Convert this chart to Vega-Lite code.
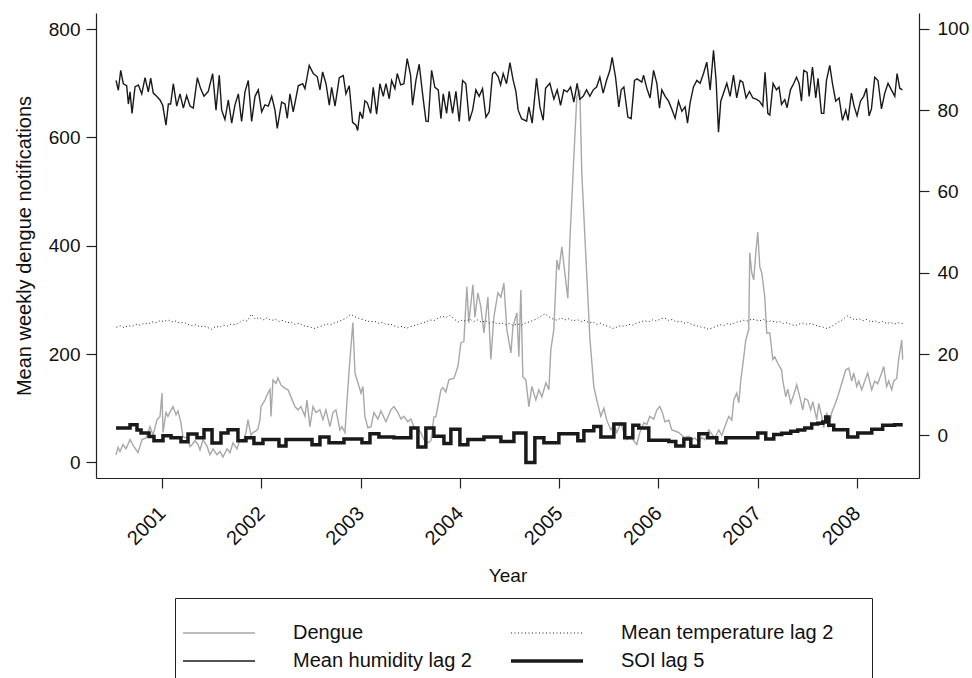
{
  "$schema": "https://vega.github.io/schema/vega-lite/v6.json",
  "width": 823,
  "height": 465,
  "autosize": {"type": "none"},
  "padding": {"left": 96, "top": 13, "right": 53, "bottom": 200},
  "background": "white",
  "config": {
    "view": {"stroke": null},
    "font": "Liberation Sans",
    "axis": {"domainColor": "#222", "tickColor": "#222", "labelColor": "#111", "titleColor": "#111", "labelFont": "Liberation Sans", "titleFont": "Liberation Sans", "labelFontSize": 19, "titleFontSize": 19, "titleFontWeight": "normal", "grid": false, "tickSize": 10, "domainWidth": 1.2, "tickWidth": 1.2}
  },
  "datasets": {
    "d": [
      {"t":2000.537,"v":14},{"t":2000.557,"v":28},{"t":2000.577,"v":20},{"t":2000.607,"v":33},{"t":2000.637,"v":25},{"t":2000.678,"v":42},{"t":2000.708,"v":32},{"t":2000.758,"v":18},{"t":2000.799,"v":42},{"t":2000.839,"v":45},{"t":2000.879,"v":66},{"t":2000.909,"v":50},{"t":2000.950,"v":79},{"t":2000.980,"v":85},{"t":2001.000,"v":128},{"t":2001.010,"v":55},{"t":2001.040,"v":92},{"t":2001.060,"v":85},{"t":2001.091,"v":97},{"t":2001.111,"v":103},{"t":2001.141,"v":88},{"t":2001.161,"v":95},{"t":2001.191,"v":73},{"t":2001.211,"v":47},{"t":2001.252,"v":45},{"t":2001.282,"v":29},{"t":2001.302,"v":33},{"t":2001.332,"v":40},{"t":2001.363,"v":33},{"t":2001.383,"v":23},{"t":2001.413,"v":42},{"t":2001.453,"v":30},{"t":2001.483,"v":14},{"t":2001.514,"v":25},{"t":2001.554,"v":14},{"t":2001.584,"v":20},{"t":2001.614,"v":10},{"t":2001.655,"v":25},{"t":2001.685,"v":18},{"t":2001.715,"v":36},{"t":2001.755,"v":25},{"t":2001.785,"v":42},{"t":2001.816,"v":38},{"t":2001.846,"v":55},{"t":2001.866,"v":79},{"t":2001.896,"v":50},{"t":2001.916,"v":55},{"t":2001.947,"v":58},{"t":2001.967,"v":62},{"t":2001.987,"v":79},{"t":2001.997,"v":103},{"t":2002.037,"v":115},{"t":2002.067,"v":128},{"t":2002.088,"v":135},{"t":2002.098,"v":85},{"t":2002.118,"v":152},{"t":2002.148,"v":146},{"t":2002.168,"v":156},{"t":2002.198,"v":143},{"t":2002.229,"v":138},{"t":2002.269,"v":134},{"t":2002.299,"v":121},{"t":2002.339,"v":103},{"t":2002.370,"v":97},{"t":2002.400,"v":103},{"t":2002.440,"v":85},{"t":2002.460,"v":115},{"t":2002.490,"v":66},{"t":2002.521,"v":103},{"t":2002.551,"v":92},{"t":2002.591,"v":97},{"t":2002.621,"v":79},{"t":2002.651,"v":97},{"t":2002.692,"v":66},{"t":2002.722,"v":92},{"t":2002.752,"v":97},{"t":2002.792,"v":60},{"t":2002.813,"v":66},{"t":2002.843,"v":55},{"t":2002.853,"v":84},{"t":2002.883,"v":165},{"t":2002.903,"v":213},{"t":2002.923,"v":258},{"t":2002.944,"v":165},{"t":2002.974,"v":147},{"t":2003.004,"v":128},{"t":2003.024,"v":140},{"t":2003.044,"v":85},{"t":2003.074,"v":64},{"t":2003.105,"v":66},{"t":2003.135,"v":92},{"t":2003.175,"v":80},{"t":2003.205,"v":95},{"t":2003.256,"v":75},{"t":2003.306,"v":97},{"t":2003.336,"v":103},{"t":2003.377,"v":92},{"t":2003.407,"v":80},{"t":2003.437,"v":85},{"t":2003.477,"v":75},{"t":2003.507,"v":80},{"t":2003.538,"v":66},{"t":2003.578,"v":62},{"t":2003.608,"v":55},{"t":2003.638,"v":42},{"t":2003.679,"v":36},{"t":2003.709,"v":40},{"t":2003.739,"v":84},{"t":2003.759,"v":84},{"t":2003.810,"v":134},{"t":2003.830,"v":138},{"t":2003.860,"v":130},{"t":2003.890,"v":153},{"t":2003.940,"v":155},{"t":2003.981,"v":177},{"t":2004.011,"v":221},{"t":2004.041,"v":223},{"t":2004.071,"v":324},{"t":2004.091,"v":258},{"t":2004.132,"v":328},{"t":2004.152,"v":268},{"t":2004.182,"v":313},{"t":2004.212,"v":287},{"t":2004.243,"v":239},{"t":2004.283,"v":305},{"t":2004.313,"v":190},{"t":2004.343,"v":268},{"t":2004.384,"v":313},{"t":2004.414,"v":305},{"t":2004.444,"v":331},{"t":2004.474,"v":245},{"t":2004.515,"v":202},{"t":2004.535,"v":250},{"t":2004.575,"v":276},{"t":2004.595,"v":195},{"t":2004.615,"v":318},{"t":2004.635,"v":158},{"t":2004.666,"v":152},{"t":2004.696,"v":103},{"t":2004.726,"v":140},{"t":2004.766,"v":115},{"t":2004.796,"v":134},{"t":2004.827,"v":121},{"t":2004.867,"v":147},{"t":2004.897,"v":134},{"t":2004.917,"v":208},{"t":2004.947,"v":245},{"t":2004.978,"v":374},{"t":2004.998,"v":355},{"t":2005.028,"v":398},{"t":2005.058,"v":350},{"t":2005.088,"v":303},{"t":2005.109,"v":410},{"t":2005.149,"v":564},{"t":2005.179,"v":675},{"t":2005.209,"v":688},{"t":2005.229,"v":534},{"t":2005.270,"v":380},{"t":2005.310,"v":230},{"t":2005.350,"v":140},{"t":2005.380,"v":115},{"t":2005.421,"v":85},{"t":2005.451,"v":100},{"t":2005.481,"v":78},{"t":2005.521,"v":60},{"t":2005.552,"v":70},{"t":2005.582,"v":55},{"t":2005.622,"v":73},{"t":2005.652,"v":55},{"t":2005.683,"v":42},{"t":2005.723,"v":48},{"t":2005.753,"v":40},{"t":2005.783,"v":33},{"t":2005.813,"v":55},{"t":2005.854,"v":73},{"t":2005.884,"v":70},{"t":2005.914,"v":85},{"t":2005.954,"v":80},{"t":2005.985,"v":97},{"t":2006.015,"v":103},{"t":2006.045,"v":90},{"t":2006.065,"v":75},{"t":2006.106,"v":78},{"t":2006.136,"v":60},{"t":2006.166,"v":58},{"t":2006.206,"v":55},{"t":2006.236,"v":50},{"t":2006.267,"v":46},{"t":2006.307,"v":48},{"t":2006.337,"v":42},{"t":2006.367,"v":45},{"t":2006.408,"v":38},{"t":2006.438,"v":46},{"t":2006.468,"v":42},{"t":2006.508,"v":60},{"t":2006.539,"v":52},{"t":2006.569,"v":45},{"t":2006.609,"v":60},{"t":2006.639,"v":50},{"t":2006.670,"v":66},{"t":2006.710,"v":85},{"t":2006.740,"v":78},{"t":2006.760,"v":115},{"t":2006.790,"v":128},{"t":2006.811,"v":110},{"t":2006.831,"v":152},{"t":2006.861,"v":195},{"t":2006.881,"v":226},{"t":2006.911,"v":245},{"t":2006.921,"v":387},{"t":2006.941,"v":350},{"t":2006.961,"v":337},{"t":2006.982,"v":387},{"t":2007.002,"v":425},{"t":2007.022,"v":361},{"t":2007.042,"v":350},{"t":2007.072,"v":306},{"t":2007.092,"v":239},{"t":2007.123,"v":239},{"t":2007.153,"v":190},{"t":2007.173,"v":195},{"t":2007.203,"v":183},{"t":2007.243,"v":170},{"t":2007.253,"v":152},{"t":2007.284,"v":121},{"t":2007.304,"v":135},{"t":2007.334,"v":109},{"t":2007.364,"v":125},{"t":2007.394,"v":143},{"t":2007.425,"v":121},{"t":2007.455,"v":97},{"t":2007.475,"v":118},{"t":2007.505,"v":115},{"t":2007.535,"v":97},{"t":2007.556,"v":112},{"t":2007.596,"v":79},{"t":2007.616,"v":109},{"t":2007.646,"v":85},{"t":2007.666,"v":64},{"t":2007.697,"v":92},{"t":2007.717,"v":64},{"t":2007.747,"v":92},{"t":2007.777,"v":106},{"t":2007.807,"v":121},{"t":2007.838,"v":140},{"t":2007.858,"v":152},{"t":2007.888,"v":171},{"t":2007.918,"v":174},{"t":2007.948,"v":150},{"t":2007.968,"v":165},{"t":2007.999,"v":140},{"t":2008.019,"v":150},{"t":2008.049,"v":134},{"t":2008.079,"v":150},{"t":2008.109,"v":165},{"t":2008.150,"v":134},{"t":2008.180,"v":150},{"t":2008.210,"v":145},{"t":2008.250,"v":165},{"t":2008.270,"v":177},{"t":2008.300,"v":140},{"t":2008.321,"v":150},{"t":2008.351,"v":134},{"t":2008.371,"v":150},{"t":2008.401,"v":155},{"t":2008.421,"v":190},{"t":2008.452,"v":226},{"t":2008.462,"v":190}
    ],
    "h": [
      {"t":2000.537,"v":87.3},{"t":2000.560,"v":84.9},{"t":2000.584,"v":89.8},{"t":2000.610,"v":86.5},{"t":2000.644,"v":86},{"t":2000.661,"v":81.5},{"t":2000.678,"v":84.5},{"t":2000.698,"v":79.2},{"t":2000.728,"v":85.7},{"t":2000.762,"v":86.2},{"t":2000.796,"v":84},{"t":2000.829,"v":88},{"t":2000.862,"v":84.5},{"t":2000.886,"v":87.9},{"t":2000.912,"v":84.2},{"t":2000.946,"v":83.4},{"t":2000.980,"v":82.5},{"t":2001.007,"v":81.2},{"t":2001.040,"v":76.3},{"t":2001.064,"v":81.5},{"t":2001.087,"v":81.5},{"t":2001.114,"v":86.5},{"t":2001.148,"v":81},{"t":2001.181,"v":84},{"t":2001.215,"v":80.5},{"t":2001.248,"v":83.6},{"t":2001.282,"v":81},{"t":2001.315,"v":80.5},{"t":2001.356,"v":88},{"t":2001.389,"v":85.3},{"t":2001.423,"v":83.4},{"t":2001.466,"v":84.6},{"t":2001.510,"v":89},{"t":2001.544,"v":80},{"t":2001.577,"v":88.6},{"t":2001.601,"v":80},{"t":2001.634,"v":77.7},{"t":2001.668,"v":82.5},{"t":2001.702,"v":76.8},{"t":2001.735,"v":81.3},{"t":2001.769,"v":84},{"t":2001.802,"v":77.2},{"t":2001.836,"v":84.5},{"t":2001.869,"v":87.3},{"t":2001.903,"v":77.2},{"t":2001.937,"v":83.4},{"t":2001.970,"v":85},{"t":2002.004,"v":79.6},{"t":2002.037,"v":81.3},{"t":2002.071,"v":81},{"t":2002.105,"v":83.4},{"t":2002.138,"v":80},{"t":2002.161,"v":75.5},{"t":2002.205,"v":82},{"t":2002.239,"v":81.5},{"t":2002.262,"v":78},{"t":2002.289,"v":84},{"t":2002.322,"v":79.6},{"t":2002.373,"v":86},{"t":2002.417,"v":86.5},{"t":2002.440,"v":85.3},{"t":2002.483,"v":91},{"t":2002.524,"v":89},{"t":2002.564,"v":88.2},{"t":2002.591,"v":85},{"t":2002.618,"v":89.4},{"t":2002.652,"v":86.5},{"t":2002.685,"v":81.2},{"t":2002.709,"v":85.6},{"t":2002.743,"v":81},{"t":2002.786,"v":88},{"t":2002.826,"v":88.5},{"t":2002.853,"v":84},{"t":2002.886,"v":86},{"t":2002.920,"v":77},{"t":2002.954,"v":76.3},{"t":2002.971,"v":75},{"t":2002.994,"v":79.6},{"t":2003.021,"v":77.9},{"t":2003.044,"v":82.3},{"t":2003.068,"v":81.8},{"t":2003.102,"v":79.2},{"t":2003.128,"v":85.6},{"t":2003.162,"v":79},{"t":2003.195,"v":86.5},{"t":2003.229,"v":83.4},{"t":2003.256,"v":86.5},{"t":2003.289,"v":82.8},{"t":2003.313,"v":87.3},{"t":2003.346,"v":85.3},{"t":2003.370,"v":89},{"t":2003.404,"v":86.2},{"t":2003.437,"v":86.5},{"t":2003.470,"v":92.7},{"t":2003.504,"v":88.6},{"t":2003.524,"v":81.2},{"t":2003.558,"v":87.3},{"t":2003.591,"v":91.3},{"t":2003.625,"v":84},{"t":2003.659,"v":77.3},{"t":2003.682,"v":77.2},{"t":2003.716,"v":89.8},{"t":2003.749,"v":85.6},{"t":2003.783,"v":85},{"t":2003.810,"v":77.9},{"t":2003.833,"v":84},{"t":2003.867,"v":79.2},{"t":2003.893,"v":84.6},{"t":2003.927,"v":79.2},{"t":2003.961,"v":84.6},{"t":2003.994,"v":77.2},{"t":2004.028,"v":87.3},{"t":2004.061,"v":86.5},{"t":2004.095,"v":77.3},{"t":2004.129,"v":80},{"t":2004.162,"v":85},{"t":2004.195,"v":83.4},{"t":2004.229,"v":85.3},{"t":2004.263,"v":78.3},{"t":2004.296,"v":79.6},{"t":2004.330,"v":89},{"t":2004.353,"v":89.4},{"t":2004.387,"v":88.2},{"t":2004.411,"v":86.2},{"t":2004.437,"v":89},{"t":2004.471,"v":86.5},{"t":2004.505,"v":91.7},{"t":2004.538,"v":87.3},{"t":2004.565,"v":84.6},{"t":2004.588,"v":80},{"t":2004.622,"v":77.9},{"t":2004.673,"v":77.3},{"t":2004.696,"v":80.8},{"t":2004.729,"v":76.8},{"t":2004.773,"v":87.8},{"t":2004.807,"v":80.8},{"t":2004.840,"v":77.5},{"t":2004.864,"v":85.4},{"t":2004.907,"v":86.6},{"t":2004.948,"v":82.7},{"t":2004.981,"v":85},{"t":2005.015,"v":81.2},{"t":2005.048,"v":85},{"t":2005.082,"v":84.5},{"t":2005.116,"v":85.7},{"t":2005.149,"v":82},{"t":2005.182,"v":86.6},{"t":2005.209,"v":82.7},{"t":2005.243,"v":83.4},{"t":2005.277,"v":85},{"t":2005.310,"v":83.4},{"t":2005.344,"v":85},{"t":2005.378,"v":85.7},{"t":2005.411,"v":88.1},{"t":2005.444,"v":84.2},{"t":2005.478,"v":87.3},{"t":2005.512,"v":89.8},{"t":2005.535,"v":93},{"t":2005.569,"v":88.1},{"t":2005.602,"v":80.8},{"t":2005.626,"v":85},{"t":2005.653,"v":85.7},{"t":2005.693,"v":78.3},{"t":2005.726,"v":77.9},{"t":2005.760,"v":87.3},{"t":2005.786,"v":87.7},{"t":2005.834,"v":86.9},{"t":2005.851,"v":88.6},{"t":2005.884,"v":85.4},{"t":2005.917,"v":83},{"t":2005.952,"v":89.8},{"t":2005.985,"v":86.6},{"t":2006.012,"v":80.5},{"t":2006.035,"v":85},{"t":2006.069,"v":83.4},{"t":2006.103,"v":82.2},{"t":2006.136,"v":80.2},{"t":2006.169,"v":78},{"t":2006.203,"v":82.2},{"t":2006.237,"v":79.7},{"t":2006.270,"v":80.8},{"t":2006.294,"v":76.8},{"t":2006.320,"v":81.8},{"t":2006.354,"v":85.7},{"t":2006.388,"v":87.3},{"t":2006.421,"v":86.6},{"t":2006.455,"v":89},{"t":2006.488,"v":91.8},{"t":2006.522,"v":85},{"t":2006.556,"v":94.7},{"t":2006.582,"v":87.3},{"t":2006.606,"v":74.6},{"t":2006.629,"v":82.2},{"t":2006.657,"v":84.2},{"t":2006.690,"v":86.6},{"t":2006.723,"v":83.4},{"t":2006.757,"v":88.6},{"t":2006.790,"v":83},{"t":2006.824,"v":87.3},{"t":2006.851,"v":86.9},{"t":2006.884,"v":83},{"t":2006.918,"v":84.6},{"t":2006.952,"v":83},{"t":2006.985,"v":82.7},{"t":2007.019,"v":82.2},{"t":2007.052,"v":81},{"t":2007.075,"v":89.3},{"t":2007.103,"v":79.2},{"t":2007.123,"v":78.8},{"t":2007.156,"v":86.6},{"t":2007.190,"v":85},{"t":2007.216,"v":85.7},{"t":2007.241,"v":81.4},{"t":2007.274,"v":82.6},{"t":2007.297,"v":80.6},{"t":2007.331,"v":85},{"t":2007.365,"v":86.6},{"t":2007.392,"v":88.1},{"t":2007.418,"v":86.6},{"t":2007.442,"v":82.2},{"t":2007.465,"v":89.8},{"t":2007.499,"v":89.3},{"t":2007.519,"v":83.4},{"t":2007.553,"v":90.6},{"t":2007.586,"v":83},{"t":2007.609,"v":87.8},{"t":2007.643,"v":79.2},{"t":2007.667,"v":79.2},{"t":2007.694,"v":87.3},{"t":2007.727,"v":91},{"t":2007.754,"v":86.6},{"t":2007.787,"v":82.2},{"t":2007.821,"v":83},{"t":2007.855,"v":77.5},{"t":2007.888,"v":80},{"t":2007.911,"v":77.5},{"t":2007.945,"v":84.2},{"t":2007.972,"v":81},{"t":2008.002,"v":78.6},{"t":2008.036,"v":82.2},{"t":2008.069,"v":83.4},{"t":2008.097,"v":85.4},{"t":2008.123,"v":78.6},{"t":2008.147,"v":80.3},{"t":2008.180,"v":88.1},{"t":2008.213,"v":87.3},{"t":2008.248,"v":80.3},{"t":2008.281,"v":84.2},{"t":2008.314,"v":86.6},{"t":2008.348,"v":85},{"t":2008.382,"v":83.4},{"t":2008.405,"v":89},{"t":2008.432,"v":85.4},{"t":2008.459,"v":85}
    ],
    "tmp": [
      {"t":2000.54,"v":26.6},{"t":2000.58,"v":26.9},{"t":2000.62,"v":26.5},{"t":2000.66,"v":27.0},{"t":2000.70,"v":26.8},{"t":2000.74,"v":27.3},{"t":2000.78,"v":27.1},{"t":2000.82,"v":27.6},{"t":2000.86,"v":27.4},{"t":2000.90,"v":27.9},{"t":2000.94,"v":27.7},{"t":2000.98,"v":28.2},
      {"t":2001.02,"v":28.0},{"t":2001.06,"v":28.4},{"t":2001.10,"v":27.9},{"t":2001.14,"v":28.1},{"t":2001.18,"v":27.6},{"t":2001.22,"v":27.8},{"t":2001.26,"v":27.3},{"t":2001.30,"v":27.0},{"t":2001.34,"v":27.2},{"t":2001.38,"v":26.7},{"t":2001.42,"v":26.9},{"t":2001.46,"v":26.5},{"t":2001.50,"v":26.1},{"t":2001.54,"v":26.8},{"t":2001.58,"v":26.6},{"t":2001.62,"v":27.1},{"t":2001.66,"v":26.9},{"t":2001.70,"v":27.4},{"t":2001.74,"v":27.2},{"t":2001.78,"v":27.8},{"t":2001.82,"v":28.3},{"t":2001.86,"v":28.1},{"t":2001.90,"v":29.8},{"t":2001.94,"v":28.6},{"t":2001.98,"v":29.0},
      {"t":2002.02,"v":28.4},{"t":2002.06,"v":28.9},{"t":2002.10,"v":28.2},{"t":2002.14,"v":28.6},{"t":2002.18,"v":28.0},{"t":2002.22,"v":28.3},{"t":2002.26,"v":27.7},{"t":2002.30,"v":27.9},{"t":2002.34,"v":27.3},{"t":2002.38,"v":27.6},{"t":2002.42,"v":27.0},{"t":2002.46,"v":26.8},{"t":2002.50,"v":26.6},{"t":2002.54,"v":26.3},{"t":2002.58,"v":26.7},{"t":2002.62,"v":27.0},{"t":2002.66,"v":27.4},{"t":2002.70,"v":27.2},{"t":2002.74,"v":27.7},{"t":2002.78,"v":28.0},{"t":2002.82,"v":28.4},{"t":2002.86,"v":28.9},{"t":2002.90,"v":29.8},{"t":2002.94,"v":29.2},{"t":2002.98,"v":28.8},
      {"t":2003.02,"v":28.5},{"t":2003.06,"v":28.2},{"t":2003.10,"v":27.9},{"t":2003.14,"v":28.1},{"t":2003.18,"v":27.6},{"t":2003.22,"v":27.8},{"t":2003.26,"v":27.2},{"t":2003.30,"v":27.4},{"t":2003.34,"v":26.9},{"t":2003.38,"v":26.6},{"t":2003.42,"v":26.8},{"t":2003.46,"v":26.3},{"t":2003.50,"v":26.7},{"t":2003.54,"v":27.0},{"t":2003.58,"v":27.3},{"t":2003.62,"v":27.6},{"t":2003.66,"v":27.9},{"t":2003.70,"v":28.4},{"t":2003.74,"v":28.2},{"t":2003.78,"v":28.8},{"t":2003.82,"v":29.3},{"t":2003.86,"v":29.0},{"t":2003.90,"v":29.5},{"t":2003.94,"v":28.7},{"t":2003.98,"v":27.9},
      {"t":2004.02,"v":28.3},{"t":2004.06,"v":28.1},{"t":2004.10,"v":28.6},{"t":2004.14,"v":28.0},{"t":2004.18,"v":28.4},{"t":2004.22,"v":27.8},{"t":2004.26,"v":28.2},{"t":2004.30,"v":27.6},{"t":2004.34,"v":27.9},{"t":2004.38,"v":27.4},{"t":2004.42,"v":27.7},{"t":2004.46,"v":27.2},{"t":2004.50,"v":27.5},{"t":2004.54,"v":27.0},{"t":2004.58,"v":27.4},{"t":2004.62,"v":27.1},{"t":2004.66,"v":27.6},{"t":2004.70,"v":27.9},{"t":2004.74,"v":28.3},{"t":2004.78,"v":28.7},{"t":2004.82,"v":29.4},{"t":2004.86,"v":29.9},{"t":2004.90,"v":29.1},{"t":2004.94,"v":28.6},{"t":2004.98,"v":28.3},
      {"t":2005.02,"v":28.9},{"t":2005.06,"v":28.4},{"t":2005.10,"v":28.7},{"t":2005.14,"v":28.1},{"t":2005.18,"v":28.5},{"t":2005.22,"v":28.0},{"t":2005.26,"v":28.3},{"t":2005.30,"v":27.7},{"t":2005.34,"v":27.9},{"t":2005.38,"v":27.3},{"t":2005.42,"v":27.6},{"t":2005.46,"v":27.0},{"t":2005.50,"v":26.8},{"t":2005.54,"v":26.3},{"t":2005.58,"v":26.6},{"t":2005.62,"v":27.0},{"t":2005.66,"v":26.8},{"t":2005.70,"v":27.3},{"t":2005.74,"v":27.1},{"t":2005.78,"v":27.6},{"t":2005.82,"v":27.9},{"t":2005.86,"v":28.2},{"t":2005.90,"v":27.9},{"t":2005.94,"v":28.4},{"t":2005.98,"v":28.1},
      {"t":2006.02,"v":28.6},{"t":2006.06,"v":28.9},{"t":2006.10,"v":28.3},{"t":2006.14,"v":28.5},{"t":2006.18,"v":27.9},{"t":2006.22,"v":28.1},{"t":2006.26,"v":27.6},{"t":2006.30,"v":27.8},{"t":2006.34,"v":27.2},{"t":2006.38,"v":27.0},{"t":2006.42,"v":26.7},{"t":2006.46,"v":26.5},{"t":2006.50,"v":26.1},{"t":2006.54,"v":26.4},{"t":2006.58,"v":26.8},{"t":2006.62,"v":27.2},{"t":2006.66,"v":27.0},{"t":2006.70,"v":27.5},{"t":2006.74,"v":27.3},{"t":2006.78,"v":27.8},{"t":2006.82,"v":28.0},{"t":2006.86,"v":28.3},{"t":2006.90,"v":28.1},{"t":2006.94,"v":28.6},{"t":2006.98,"v":28.4},
      {"t":2007.02,"v":28.2},{"t":2007.06,"v":28.5},{"t":2007.10,"v":27.9},{"t":2007.14,"v":28.2},{"t":2007.18,"v":27.8},{"t":2007.22,"v":28.0},{"t":2007.26,"v":27.5},{"t":2007.30,"v":27.7},{"t":2007.34,"v":27.2},{"t":2007.38,"v":27.0},{"t":2007.42,"v":27.4},{"t":2007.46,"v":27.6},{"t":2007.50,"v":27.3},{"t":2007.54,"v":27.5},{"t":2007.58,"v":27.1},{"t":2007.62,"v":26.8},{"t":2007.66,"v":26.6},{"t":2007.70,"v":26.3},{"t":2007.74,"v":26.7},{"t":2007.78,"v":27.3},{"t":2007.82,"v":27.9},{"t":2007.86,"v":28.5},{"t":2007.90,"v":29.4},{"t":2007.94,"v":28.9},{"t":2007.98,"v":28.4},
      {"t":2008.02,"v":28.7},{"t":2008.06,"v":28.2},{"t":2008.10,"v":28.5},{"t":2008.14,"v":27.9},{"t":2008.18,"v":28.2},{"t":2008.22,"v":27.7},{"t":2008.26,"v":28.0},{"t":2008.30,"v":27.5},{"t":2008.34,"v":27.8},{"t":2008.38,"v":27.4},{"t":2008.42,"v":27.7},{"t":2008.46,"v":27.5}
    ],
    "soi": [
      {"t":2000.537,"v":1.8},{"t":2000.678,"v":2.6},{"t":2000.748,"v":1.3},{"t":2000.789,"v":0.6},{"t":2000.869,"v":-0.3},{"t":2000.919,"v":-1.35},{"t":2001.010,"v":-0.1},{"t":2001.091,"v":-0.6},{"t":2001.191,"v":-1.6},{"t":2001.262,"v":0.3},{"t":2001.352,"v":-0.6},{"t":2001.423,"v":1.35},{"t":2001.504,"v":-1.9},{"t":2001.594,"v":0.6},{"t":2001.665,"v":1.35},{"t":2001.765,"v":-1.35},{"t":2001.846,"v":-0.6},{"t":2001.926,"v":-2.0},{"t":2002.017,"v":-1.0},{"t":2002.178,"v":-2.6},{"t":2002.249,"v":-1.0},{"t":2002.511,"v":-2.3},{"t":2002.591,"v":-0.4},{"t":2002.682,"v":-1.8},{"t":2002.833,"v":-0.9},{"t":2003.014,"v":-1.8},{"t":2003.095,"v":0.4},{"t":2003.185,"v":-0.4},{"t":2003.336,"v":-0.6},{"t":2003.507,"v":1.8},{"t":2003.578,"v":-2.9},{"t":2003.658,"v":1.8},{"t":2003.739,"v":-0.2},{"t":2003.840,"v":-2.0},{"t":2003.910,"v":1.5},{"t":2004.001,"v":-2.3},{"t":2004.081,"v":-1.0},{"t":2004.243,"v":-0.4},{"t":2004.414,"v":-1.5},{"t":2004.545,"v":0.6},{"t":2004.666,"v":-6.7},{"t":2004.756,"v":-0.6},{"t":2004.847,"v":-1.8},{"t":2004.998,"v":0.4},{"t":2005.189,"v":-1.35},{"t":2005.250,"v":1.1},{"t":2005.350,"v":2.2},{"t":2005.421,"v":-0.4},{"t":2005.552,"v":2.8},{"t":2005.662,"v":-0.6},{"t":2005.743,"v":2.5},{"t":2005.803,"v":1.8},{"t":2005.904,"v":-1.2},{"t":2006.106,"v":-1.5},{"t":2006.176,"v":-2.6},{"t":2006.257,"v":-0.9},{"t":2006.327,"v":-2.7},{"t":2006.408,"v":0.4},{"t":2006.498,"v":-0.6},{"t":2006.589,"v":-1.8},{"t":2006.680,"v":-0.6},{"t":2007.002,"v":0.6},{"t":2007.082,"v":-0.9},{"t":2007.163,"v":0.2},{"t":2007.243,"v":0.5},{"t":2007.334,"v":1.0},{"t":2007.404,"v":1.3},{"t":2007.475,"v":1.8},{"t":2007.545,"v":2.8},{"t":2007.606,"v":3.0},{"t":2007.656,"v":3.3},{"t":2007.686,"v":4.5},{"t":2007.717,"v":2.5},{"t":2007.767,"v":1.35},{"t":2007.908,"v":-0.4},{"t":2008.009,"v":0.6},{"t":2008.150,"v":1.5},{"t":2008.260,"v":2.5},{"t":2008.380,"v":2.6},{"t":2008.462,"v":2.6}
    ],
    "leg": [{"s":"D"},{"s":"T"},{"s":"H"},{"s":"S"}]
  },
  "encoding": {
    "x": {"field": "t", "type": "quantitative", "scale": {"domain": [2000.335, 2008.626], "nice": false, "zero": false},
      "axis": {"title": "Year", "values": [2001,2002,2003,2004,2005,2006,2007,2008], "format": "d", "labelAngle": -45, "labelAlign": "right", "labelBaseline": "middle", "labelFontSize": 20, "labelPadding": 22, "titlePadding": 18, "labelFlush": false}}
  },
  "layer": [
    {
      "data": {"name": "d"},
      "mark": {"type": "line", "stroke": "#a8a8a8", "strokeWidth": 1.4, "clip": true},
      "encoding": {
        "y": {"field": "v", "type": "quantitative", "scale": {"domain": [-28.8, 829.6], "nice": false, "zero": false},
          "axis": {"title": "Mean weekly dengue notifications", "titleFontSize": 20, "orient": "left", "values": [0,200,400,600,800], "titlePadding": 14, "labelPadding": 6}}
      }
    },
    {
      "layer": [
        {
          "data": {"name": "tmp"},
          "mark": {"type": "line", "stroke": "#222", "strokeWidth": 1, "strokeDash": [1, 2.5], "clip": true},
          "encoding": {
            "y": {"field": "v", "type": "quantitative", "scale": {"domain": [-10.5, 103.9], "nice": false, "zero": false},
              "axis": {"title": null, "orient": "right", "values": [0,20,40,60,80,100], "labelPadding": 8}}
          }
        },
        {
          "data": {"name": "h"},
          "mark": {"type": "line", "stroke": "#1a1a1a", "strokeWidth": 1.4, "clip": true},
          "encoding": {"y": {"field": "v", "type": "quantitative"}}
        },
        {
          "data": {"name": "soi"},
          "mark": {"type": "line", "stroke": "#1a1a1a", "strokeWidth": 3.5, "interpolate": "step-after", "clip": true},
          "encoding": {"y": {"field": "v", "type": "quantitative"}}
        },
        {
          "data": {"name": "leg"},
          "mark": {"type": "rule", "strokeOpacity": 0},
          "encoding": {
            "x": {"datum": 2004},
            "y": {"datum": 50},
            "stroke": {"field": "s", "type": "nominal", "scale": {"domain": ["D","H","T","S"], "range": ["#a8a8a8","#1a1a1a","#222","#1a1a1a"]},
              "legend": {"title": " ", "titleFontSize": 10, "titlePadding": 7, "orient": "none", "legendX": 79, "legendY": 585, "columns": 2, "symbolType": "M-1.667,0H10.333", "symbolSize": 144, "labelFontSize": 20, "labelFont": "Liberation Sans", "labelColor": "#111", "labelOffset": 90, "columnPadding": 31, "rowPadding": 8, "padding": 8, "strokeColor": "#222", "labelLimit": 400, "symbolOpacity": 1,
                "symbolStrokeWidth": {"expr": "datum.value === 'S' ? 3.5 : datum.value === 'T' ? 1 : 1.4"},
                "labelExpr": "datum.label == 'D' ? 'Dengue' : datum.label == 'T' ? 'Mean temperature lag 2\u2800\u2800' : datum.label == 'H' ? 'Mean humidity lag 2' : 'SOI lag 5'",
                "encode": {"symbols": {"update": {"strokeWidth": {"signal": "datum.value === 'S' ? 3.5 : datum.value === 'T' ? 1 : 1.4"}}}}}},
            "strokeDash": {"field": "s", "type": "nominal", "scale": {"domain": ["D","H","T","S"], "range": [[1,0],[1,0],[1,2.5],[1,0]]}}
          }
        }
      ]
    }
  ],
  "resolve": {"scale": {"y": "independent"}}
}
